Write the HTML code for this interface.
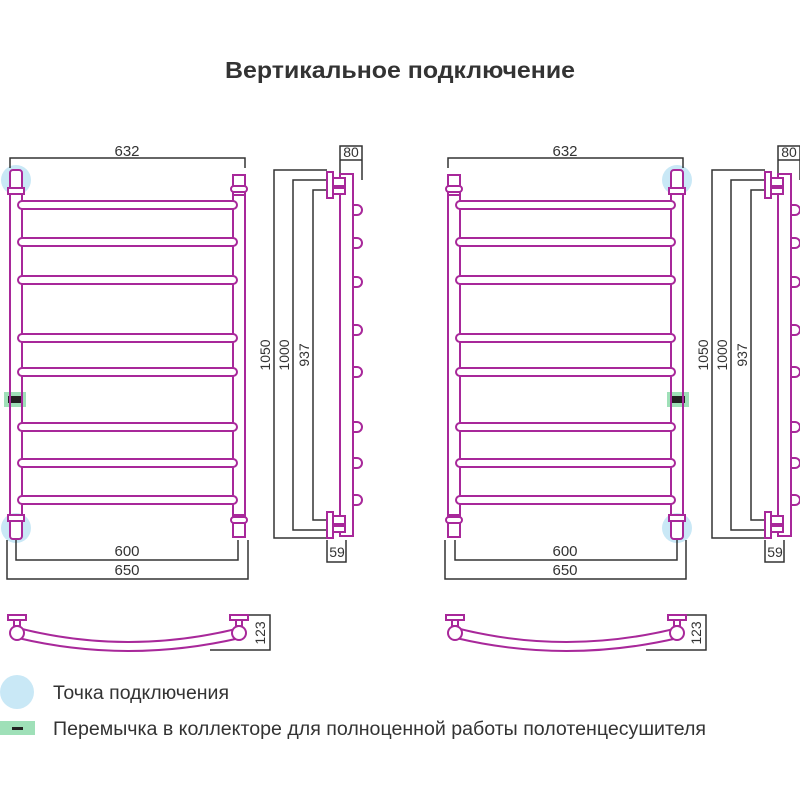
<!DOCTYPE html>
<html><head><meta charset="utf-8"><style>
body{margin:0;background:#fff}
svg{display:block}
text{font-family:"Liberation Sans",Arial,sans-serif;fill:#333}
.m{fill:none;stroke:#a8289a;stroke-width:2}
.mf{fill:#fff;stroke:#a8289a;stroke-width:2}
.d{fill:none;stroke:#333;stroke-width:1.5}
</style></head><body>
<svg width="800" height="800" viewBox="0 0 800 800" xmlns="http://www.w3.org/2000/svg">
<text x="400" y="78" font-size="23" font-weight="bold" text-anchor="middle" fill="#222" textLength="350" lengthAdjust="spacingAndGlyphs">Вертикальное подключение</text>

<defs>
<g id="front">
  <circle cx="16" cy="180" r="15" fill="#c9e8f6"/>
  <circle cx="16" cy="528" r="15" fill="#c9e8f6"/>
  <rect x="4" y="392" width="22" height="15" fill="#9fe0b8"/>
  <rect x="8" y="396" width="14" height="7" fill="#222"/>
  <rect class="m" x="10" y="190" width="12" height="325"/>
  <rect class="m" x="233" y="190" width="12" height="325"/>
  <rect class="mf" x="10" y="170" width="12" height="22" rx="3"/>
  <rect class="mf" x="8" y="188" width="16" height="6"/>
  <rect class="mf" x="233" y="175" width="12" height="20"/>
  <rect class="mf" x="231" y="186" width="16" height="6" rx="3"/>
  <rect class="mf" x="10" y="517" width="12" height="22" rx="3"/>
  <rect class="mf" x="8" y="515" width="16" height="6"/>
  <rect class="mf" x="233" y="515" width="12" height="22"/>
  <rect class="mf" x="231" y="517" width="16" height="6" rx="3"/>
  <g class="mf">
  <rect x="18" y="201" width="219" height="8" rx="4"/>
  <rect x="18" y="238" width="219" height="8" rx="4"/>
  <rect x="18" y="276" width="219" height="8" rx="4"/>
  <rect x="18" y="334" width="219" height="8" rx="4"/>
  <rect x="18" y="368" width="219" height="8" rx="4"/>
  <rect x="18" y="423" width="219" height="8" rx="4"/>
  <rect x="18" y="459" width="219" height="8" rx="4"/>
  <rect x="18" y="496" width="219" height="8" rx="4"/>
  </g>
</g>
<g id="side">
  <g class="d">
    <polyline points="327,170 274,170 274,538 327,538"/>
    <polyline points="327,180 293,180 293,530 327,530"/>
    <polyline points="327,190 313,190 313,520 327,520"/>
    <polyline points="340,178 340,146 362,146 362,180"/>
    <line x1="340" y1="160" x2="362" y2="160"/>
    <polyline points="327,540 327,562 346,562 346,540"/>
  </g>
  <text x="351" y="157" font-size="14" text-anchor="middle">80</text>
  <text x="337" y="557" font-size="14" text-anchor="middle">59</text>
  <text transform="translate(270,355) rotate(-90)" font-size="14" text-anchor="middle">1050</text>
  <text transform="translate(289,355) rotate(-90)" font-size="14" text-anchor="middle">1000</text>
  <text transform="translate(309,355) rotate(-90)" font-size="14" text-anchor="middle">937</text>
  <g class="mf">
    <path d="M352,205 h5 a5,5 0 0 1 0,10 h-5"/>
    <path d="M352,238 h5 a5,5 0 0 1 0,10 h-5"/>
    <path d="M352,277 h5 a5,5 0 0 1 0,10 h-5"/>
    <path d="M352,325 h5 a5,5 0 0 1 0,10 h-5"/>
    <path d="M352,367 h5 a5,5 0 0 1 0,10 h-5"/>
    <path d="M352,422 h5 a5,5 0 0 1 0,10 h-5"/>
    <path d="M352,458 h5 a5,5 0 0 1 0,10 h-5"/>
    <path d="M352,495 h5 a5,5 0 0 1 0,10 h-5"/>
  </g>
  <rect class="mf" x="340" y="174" width="13" height="362"/>
  <rect class="mf" x="327" y="172" width="6" height="26"/>
  <rect class="mf" x="333" y="178" width="12" height="8"/>
  <rect class="mf" x="333" y="188" width="12" height="6"/>
  <rect class="mf" x="327" y="512" width="6" height="26"/>
  <rect class="mf" x="333" y="516" width="12" height="8"/>
  <rect class="mf" x="333" y="526" width="12" height="6"/>
</g>
<g id="bottom">
  <path class="m" d="M18,628 Q128,656 240,628"/>
  <path class="m" d="M18,638 Q128,664 240,638"/>
  <rect class="mf" x="8" y="615" width="18" height="5"/>
  <rect class="mf" x="14" y="620" width="6" height="6"/>
  <circle class="mf" cx="17" cy="633" r="7"/>
  <rect class="mf" x="230" y="615" width="18" height="5"/>
  <rect class="mf" x="236" y="620" width="6" height="6"/>
  <circle class="mf" cx="239" cy="633" r="7"/>
</g>
</defs>

<use href="#front"/>
<g class="d">
  <polyline points="10,168 10,158 245,158 245,168"/>
  <polyline points="16,540 16,560 238,560 238,540"/>
  <polyline points="7,540 7,579 248,579 248,540"/>
  <polyline points="248,615 270,615 270,650 210,650"/>
</g>
<text x="127" y="156" font-size="15" text-anchor="middle">632</text>
<text x="127" y="556" font-size="15" text-anchor="middle">600</text>
<text x="127" y="575" font-size="15" text-anchor="middle">650</text>
<text transform="translate(265,633) rotate(-90)" font-size="14" text-anchor="middle">123</text>
<use href="#side"/>
<use href="#bottom"/>

<use href="#front" transform="translate(693,0) scale(-1,1)"/>
<g class="d">
  <polyline points="448,168 448,158 683,158 683,168"/>
  <polyline points="455,540 455,560 677,560 677,540"/>
  <polyline points="445,540 445,579 686,579 686,540"/>
  <polyline points="684,615 706,615 706,650 646,650"/>
</g>
<text x="565" y="156" font-size="15" text-anchor="middle">632</text>
<text x="565" y="556" font-size="15" text-anchor="middle">600</text>
<text x="565" y="575" font-size="15" text-anchor="middle">650</text>
<text transform="translate(701,633) rotate(-90)" font-size="14" text-anchor="middle">123</text>
<use href="#side" transform="translate(438,0)"/>
<use href="#bottom" transform="translate(438,0)"/>

<circle cx="17" cy="692" r="17" fill="#c9e8f6"/>
<text x="53" y="699" font-size="19" textLength="176" lengthAdjust="spacingAndGlyphs">Точка подключения</text>
<rect x="0" y="721" width="35" height="14" fill="#9fe0b8"/>
<rect x="12" y="727" width="11" height="3" fill="#222"/>
<text x="53" y="735" font-size="19" textLength="653" lengthAdjust="spacingAndGlyphs">Перемычка в коллекторе для полноценной работы полотенцесушителя</text>
</svg>
</body></html>
